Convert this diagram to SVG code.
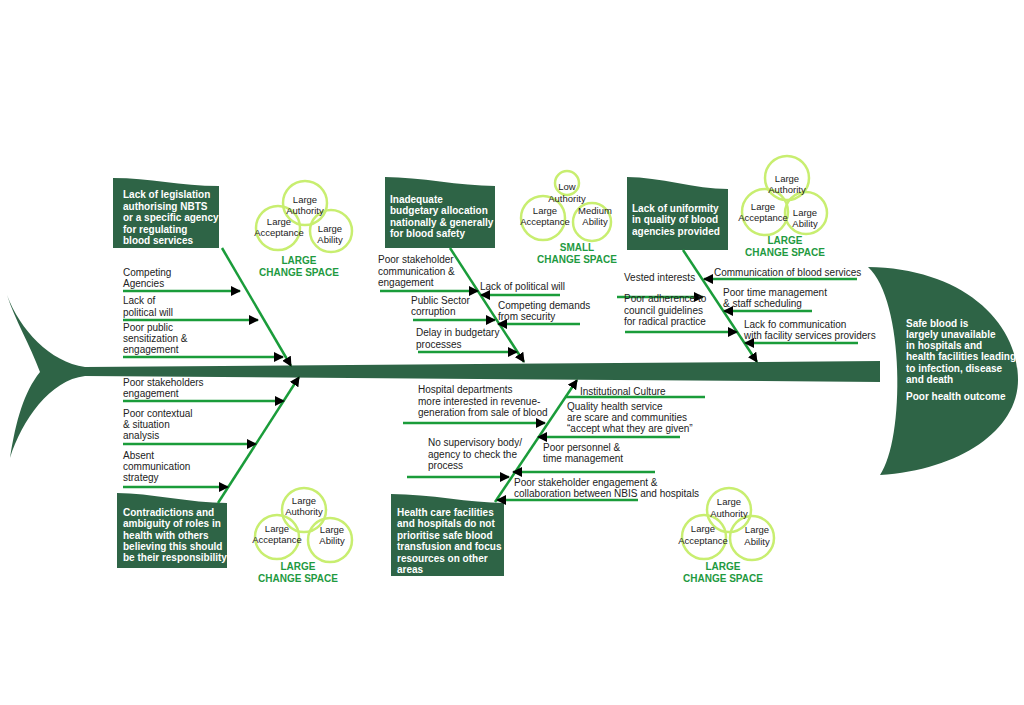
<svg xmlns="http://www.w3.org/2000/svg" width="1024" height="705" viewBox="0 0 1024 705">
<defs>
<marker id="ar" markerWidth="10" markerHeight="10" refX="9" refY="5" orient="auto" markerUnits="userSpaceOnUse"><path d="M0,0 L10,5 L0,10 Z" fill="#000"/></marker>
<style>
.b{stroke:#1a9c3a;stroke-width:2.5;fill:none}
.a{stroke:#1a9c3a;stroke-width:2.5;fill:none;marker-end:url(#ar)}
.t{font-family:"Liberation Sans",Arial,sans-serif;font-size:10px;fill:#222}
.w{font-family:"Liberation Sans",Arial,sans-serif;font-size:10px;fill:#fff;font-weight:bold}
.g{font-family:"Liberation Sans",Arial,sans-serif;font-size:10px;fill:#1f9a3f;font-weight:bold;text-anchor:middle}
.c{fill:none;stroke:#c8ee70;stroke-width:2.5}
.v{font-family:"Liberation Sans",Arial,sans-serif;font-size:9.5px;fill:#222;text-anchor:middle}
.box{fill:#2e6446}
</style>
</defs>
<rect width="1024" height="705" fill="#fff"/>
<g id="fish">
<path class="box" d="M7,295 C20,330 50,362 85,367 L880,361 L880,382 L85,376 C50,380 22,420 10,458 C16,420 24,392 40,372 C30,345 15,320 7,295 Z"/>
<path class="box" d="M868,267 C960,268 1018,320 1018,380 C1018,430 960,470 880,475 C905,440 905,300 868,267 Z"/>
<g class="w"><text x="906" y="327">Safe blood is</text><text x="906" y="338">largely unavailable</text><text x="906" y="349">in hospitals and</text><text x="906" y="360">health facilities leading</text><text x="906" y="372">to infection, disease</text><text x="906" y="383">and death</text><text x="906" y="400">Poor health outcome</text></g>
</g>
<g id="box1"><path class="box" d="M113,178 C150,178 180,186 219,186 L219,248 L113,248 Z"/><g class="w"><text x="123" y="198">Lack of legislation</text><text x="123" y="210">authorising NBTS</text><text x="123" y="221">or a specific agency</text><text x="123" y="233">for regulating</text><text x="123" y="244">blood services</text></g></g>
<g id="box2"><path class="box" d="M385,177 C420,177 460,186 495,186 L495,248 L385,248 Z"/><g class="w"><text x="390" y="203">Inadequate</text><text x="390" y="214">budgetary allocation</text><text x="390" y="226">nationally &amp; generally</text><text x="390" y="237">for blood safety</text></g></g>
<g id="box3"><path class="box" d="M627,177 C660,177 695,189 728,189 L728,250 L627,250 Z"/><g class="w"><text x="632" y="212">Lack of uniformity</text><text x="632" y="223">in quality of blood</text><text x="632" y="235">agencies provided</text></g></g>
<g id="box4"><path class="box" d="M117,493 C150,493 190,503 227,503 L227,568 L117,568 Z"/><g class="w"><text x="123" y="516">Contradictions and</text><text x="123" y="527">ambiguity of roles in</text><text x="123" y="539">health with others</text><text x="123" y="550">believing this should</text><text x="123" y="561">be their responsibility</text></g></g>
<g id="box5"><path class="box" d="M391,494 C430,494 470,503 504,503 L504,576 L391,576 Z"/><g class="w"><text x="397" y="516">Health care facilities</text><text x="397" y="527">and hospitals do not</text><text x="397" y="539">prioritise safe blood</text><text x="397" y="550">transfusion and focus</text><text x="397" y="562">resources on other</text><text x="397" y="573">areas</text></g></g>
<g id="connectors">
<path class="a" d="M222,248 L291,366"/>
<path class="a" d="M123,291 L240,291"/><path class="a" d="M123,320 L258,320"/><path class="a" d="M123,357 L283,357"/>
<path class="a" d="M218,503 L299,377"/>
<path class="a" d="M123,401 L284,401"/><path class="a" d="M123,444 L256,444"/><path class="a" d="M123,487 L228,487"/>
<path class="a" d="M450,248 L524,362"/>
<path class="a" d="M380,291 L478,291"/><path class="a" d="M560,295 L481,295"/><path class="a" d="M413,320 L495,320"/><path class="a" d="M580,324 L498,324"/><path class="a" d="M418,352 L517,352"/>
<path class="a" d="M683,250 L757,362"/>
<path class="a" d="M617,297 L703,297"/><path class="a" d="M625,332 L737,332"/><path class="a" d="M857,279 L704,279"/><path class="a" d="M812,311 L724,311"/><path class="a" d="M858,343 L745,343"/>
<path class="a" d="M495,502 L577,380"/>
<path class="b" d="M565,397 L705,397"/>
<path class="a" d="M403,423 L545,423"/><path class="a" d="M680,437 L538,437"/><path class="a" d="M407,477 L509,477"/><path class="a" d="M655,472 L513,472"/><path class="a" d="M638,500 L497,500"/>
</g>
<g id="labels" class="t">
<text x="123" y="276">Competing</text><text x="123" y="287">Agencies</text>
<text x="123" y="304">Lack of</text><text x="123" y="316">political will</text>
<text x="123" y="331">Poor public</text><text x="123" y="342">sensitization &amp;</text><text x="123" y="353">engagement</text>
<text x="123" y="386">Poor stakeholders</text><text x="123" y="397">engagement</text>
<text x="123" y="417">Poor contextual</text><text x="123" y="428">&amp; situation</text><text x="123" y="439">analysis</text>
<text x="123" y="459">Absent</text><text x="123" y="470">communication</text><text x="123" y="481">strategy</text>
<text x="378" y="263">Poor stakeholder</text><text x="378" y="275">communication &amp;</text><text x="378" y="286">engagement</text>
<text x="480" y="290">Lack of political will</text>
<text x="411" y="304">Public Sector</text><text x="411" y="315">corruption</text>
<text x="498" y="309">Competing demands</text><text x="498" y="320">from security</text>
<text x="416" y="336">Delay in budgetary</text><text x="416" y="348">processes</text>
<text x="624" y="281">Vested interests</text>
<text x="624" y="302">Poor adherence to</text><text x="624" y="314">council guidelines</text><text x="624" y="325">for radical practice</text>
<text x="714" y="276">Communication of blood services</text>
<text x="723" y="296">Poor time management</text><text x="723" y="307">&amp; staff scheduling</text>
<text x="744" y="328">Lack fo communication</text><text x="744" y="339">with facility services providers</text>
<text x="418" y="393">Hospital departments</text><text x="418" y="405">more interested in revenue-</text><text x="418" y="416">generation from sale of  blood</text>
<text x="580" y="395">Institutional Culture</text>
<text x="567" y="410">Quality health service</text><text x="567" y="421">are scare and communities</text><text x="567" y="432">“accept what they are given”</text>
<text x="428" y="446">No supervisory body/</text><text x="428" y="458">agency to check the</text><text x="428" y="469">process</text>
<text x="543" y="451">Poor personnel &amp;</text><text x="543" y="462">time management</text>
<text x="514" y="486">Poor stakeholder engagement &amp;</text><text x="514" y="497">collaboration between NBIS and hospitals</text>
</g>
<g id="venn1"><circle class="c" cx="305" cy="203" r="22"/><circle class="c" cx="278" cy="228" r="22"/><circle class="c" cx="331" cy="231" r="21"/>
<text class="v" x="305" y="203">Large</text><text class="v" x="305" y="214">Authority</text><text class="v" x="279" y="225">Large</text><text class="v" x="279" y="236">Acceptance</text><text class="v" x="330" y="232">Large</text><text class="v" x="330" y="243">Ability</text>
<text class="g" x="299" y="264">LARGE</text><text class="g" x="299" y="276">CHANGE SPACE</text></g>
<g id="venn2"><circle class="c" cx="567" cy="183" r="12"/><circle class="c" cx="543" cy="218" r="22"/><circle class="c" cx="592" cy="222" r="19"/>
<text class="v" x="567" y="190">Low</text><text class="v" x="567" y="202">Authority</text><text class="v" x="545" y="214">Large</text><text class="v" x="545" y="225">Acceptance</text><text class="v" x="595" y="214">Medium</text><text class="v" x="595" y="225">Ability</text>
<text class="g" x="577" y="251">SMALL</text><text class="g" x="577" y="263">CHANGE SPACE</text></g>
<g id="venn3"><circle class="c" cx="787" cy="178" r="22"/><circle class="c" cx="765" cy="212" r="23"/><circle class="c" cx="806" cy="213" r="21"/>
<text class="v" x="787" y="182">Large</text><text class="v" x="787" y="193">Authority</text><text class="v" x="763" y="210">Large</text><text class="v" x="763" y="221">Acceptance</text><text class="v" x="805" y="216">Large</text><text class="v" x="805" y="227">Ability</text>
<text class="g" x="785" y="244">LARGE</text><text class="g" x="785" y="256">CHANGE SPACE</text></g>
<g id="venn4"><circle class="c" cx="304" cy="510" r="22"/><circle class="c" cx="277" cy="537" r="22"/><circle class="c" cx="330" cy="540" r="22"/>
<text class="v" x="304" y="504">Large</text><text class="v" x="304" y="515">Authority</text><text class="v" x="277" y="532">Large</text><text class="v" x="277" y="543">Acceptance</text><text class="v" x="332" y="533">Large</text><text class="v" x="332" y="544">Ability</text>
<text class="g" x="298" y="570">LARGE</text><text class="g" x="298" y="582">CHANGE SPACE</text></g>
<g id="venn5"><circle class="c" cx="729" cy="510" r="22"/><circle class="c" cx="704" cy="537" r="22"/><circle class="c" cx="752" cy="538" r="22"/>
<text class="v" x="729" y="505">Large</text><text class="v" x="729" y="517">Authority</text><text class="v" x="703" y="532">Large</text><text class="v" x="703" y="544">Acceptance</text><text class="v" x="757" y="533">Large</text><text class="v" x="757" y="545">Ability</text>
<text class="g" x="723" y="570">LARGE</text><text class="g" x="723" y="582">CHANGE SPACE</text></g>
</svg>
